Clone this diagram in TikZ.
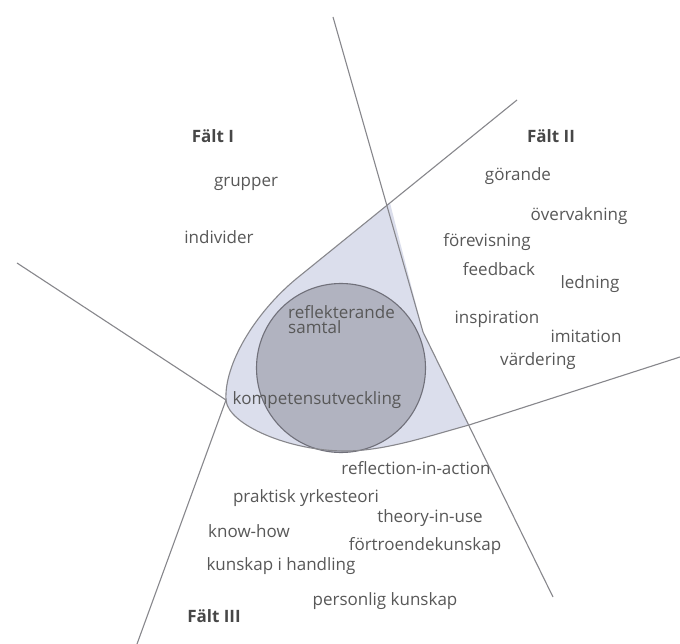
\documentclass[tikz,border=0pt]{standalone}
\usepackage{fontspec}
\setmainfont{Open Sans}
\usetikzlibrary{positioning}
\definecolor{faltblue}{RGB}{219,222,236}
\definecolor{kompgray}{RGB}{177,179,192}
\definecolor{kantgray}{RGB}{112,112,122}
\definecolor{linjegray}{RGB}{135,135,140}
\definecolor{textgray}{RGB}{88,88,88}
\tikzstyle{falt} = [font=\fontsize{17}{19}\selectfont\bfseries, text=black!72, inner sep=0pt, text height=13pt, text depth=2pt]
\tikzstyle{begrepp} = [font=\fontsize{17}{19}\selectfont, text=textgray, inner sep=0pt, text height=13pt, text depth=2pt]
\tikzstyle{linje} = [draw=linjegray, line width=1.1pt]

\begin{document}
\begin{tikzpicture}[x=1pt,y=-1pt]
\useasboundingbox[fill=white] (0,0) rectangle (680,644);

\coordinate (topp) at (390,203);
\coordinate (knaA) at (423,332);
\coordinate (knaB) at (226,400);
\coordinate (botten) at (469,425);

% ytan kring cirkeln
\fill[faltblue] (topp) -- (296,279) .. controls (254,314) and (224,365) .. (knaB)
  .. controls (228,425) and (290,451) .. (345,451)
  .. controls (385,451) and (429,436) .. (botten) -- (knaA) -- cycle;

\node[circle, draw=kantgray, fill=kompgray, line width=1.1pt, minimum size=169pt, inner sep=0pt] (komp) at (341,368) {};

\draw[linje] (517,100) -- (296,279) .. controls (254,314) and (224,365) .. (knaB)
  .. controls (228,425) and (290,451) .. (345,451)
  .. controls (385,451) and (429,436) .. (botten) -- (680,357);
\draw[linje] (333,17) -- (knaA) -- (553,597);
\draw[linje] (17,263) -- (knaB) -- (137,644);

\node[falt] (falt1) at (213,137) {Fält I};
\node[falt] (falt2) at (551,137) {Fält II};
\node[falt] (falt3) at (214,617) {Fält III};

\node[begrepp] (grupper) at (246,181) {grupper};
\node[begrepp] (individer) at (219,238) {individer};

\node[begrepp] (gorande) at (518,175) {görande};
\node[begrepp] (overvakning) at (579,215) {övervakning};
\node[begrepp] (forevisning) at (487,241) {förevisning};
\node[begrepp] (feedback) at (499,270) {feedback};
\node[begrepp] (ledning) at (590,283) {ledning};
\node[begrepp] (inspiration) at (497,318) {inspiration};
\node[begrepp] (imitation) at (586,337) {imitation};
\node[begrepp] (vardering) at (538,360) {värdering};

\node[begrepp, align=left, anchor=west, text height=, text depth=, font=\fontsize{17}{15}\selectfont] (samtal) at (288,320) {reflekterande\\samtal};
\node[begrepp] (kompetens) at (317,399) {kompetensutveckling};

\node[begrepp] (ria) at (416,469) {reflection-in-action};
\node[begrepp] (yrkesteori) at (306,497) {praktisk yrkesteori};
\node[begrepp] (tiu) at (430,517) {theory-in-use};
\node[begrepp] (knowhow) at (249,532) {know-how};
\node[begrepp] (fortroende) at (425,545) {förtroendekunskap};
\node[begrepp] (handling) at (281,565) {kunskap i handling};
\node[begrepp] (personlig) at (385,600) {personlig kunskap};
\end{tikzpicture}
\end{document}
